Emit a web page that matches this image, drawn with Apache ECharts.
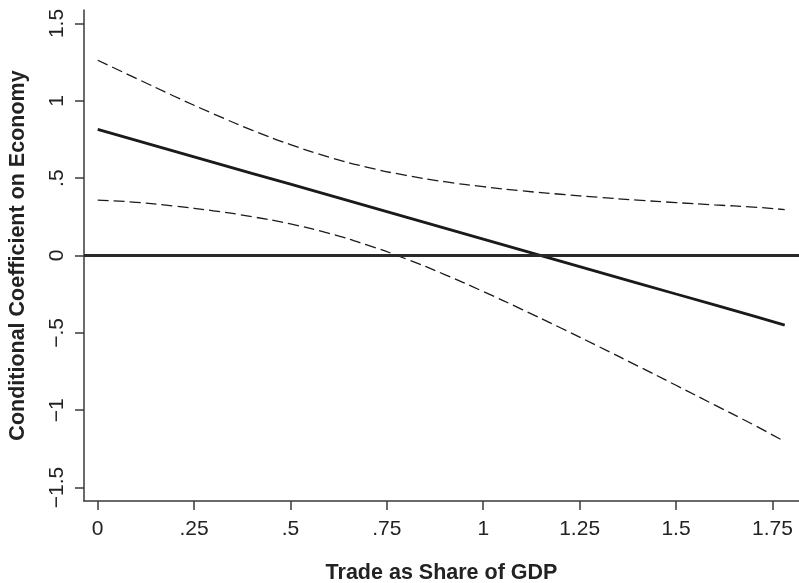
<!DOCTYPE html>
<html>
<head>
<meta charset="utf-8">
<script src="https://cdn.jsdelivr.net/npm/echarts@6/dist/echarts.min.js"></script>
<style>
html,body{margin:0;padding:0;background:#fff;}
#chart{width:799px;height:583px;}
</style>
</head>
<body>
<div id="chart"></div>
<script>
// Trade as share of GDP (x) sample points
const tradeShare = [0, 0.1, 0.2, 0.3, 0.4, 0.5, 0.6, 0.7, 0.8, 0.9, 1.0, 1.1, 1.2, 1.3, 1.4, 1.5, 1.6, 1.7, 1.782];
// Conditional coefficient on economy
const coefficient = [0.815, 0.744, 0.673, 0.602, 0.531, 0.461, 0.390, 0.319, 0.248, 0.177, 0.106, 0.035, -0.036, -0.107, -0.178, -0.249, -0.319, -0.390, -0.450];
const upperBound = [1.262, 1.145, 1.028, 0.916, 0.811, 0.717, 0.636, 0.570, 0.518, 0.477, 0.445, 0.418, 0.396, 0.376, 0.358, 0.342, 0.327, 0.313, 0.297];
const lowerBound = [0.358, 0.344, 0.319, 0.289, 0.251, 0.204, 0.143, 0.067, -0.022, -0.123, -0.233, -0.348, -0.467, -0.589, -0.713, -0.839, -0.966, -1.093, -1.203];
// Tick labels
const xTickValues = [0, 0.25, 0.5, 0.75, 1, 1.25, 1.5, 1.75];
const xTickLabels = ['0', '.25', '.5', '.75', '1', '1.25', '1.5', '1.75'];
const yTickValues = [-1.5, -1, -0.5, 0, 0.5, 1, 1.5];
const yTickLabels = ['\u22121.5', '\u22121', '\u2212.5', '0', '.5', '1', '1.5'];

const pairs = (ys) => tradeShare.map((x, i) => [x, ys[i]]);
const fmt = (vals, labels) => (v) => {
  for (let i = 0; i < vals.length; i++) if (Math.abs(vals[i] - v) < 1e-9) return labels[i];
  return '';
};
const font = '"Liberation Sans", Arial, Helvetica, sans-serif';
const axisColor = '#3a3a3a';

const chart = echarts.init(document.getElementById('chart'), null, {renderer: 'canvas'});
chart.setOption({
  backgroundColor: '#ffffff',
  animation: false,
  grid: {left: 84, right: 0, top: 10, bottom: 82, containLabel: false, outerBoundsMode: 'none'},
  xAxis: {
    type: 'value',
    min: -0.0355,
    max: 1.819,
    name: 'Trade as Share of GDP',
    nameLocation: 'middle',
    nameGap: 61,
    nameTextStyle: {fontFamily: font, fontSize: 21.5, fontWeight: 'bold', color: '#222'},
    axisLine: {show: true, onZero: false, lineStyle: {color: axisColor, width: 1.5}},
    axisTick: {show: true, length: 9, customValues: xTickValues, lineStyle: {color: axisColor, width: 1.5}},
    axisLabel: {customValues: xTickValues, formatter: fmt(xTickValues, xTickLabels), margin: 18,
      fontFamily: font, fontSize: 21, color: '#222'},
    splitLine: {show: false}
  },
  yAxis: {
    type: 'value',
    min: -1.587,
    max: 1.587,
    name: 'Conditional Coefficient on Economy',
    nameLocation: 'middle',
    nameRotate: 90,
    nameGap: 55,
    nameTextStyle: {fontFamily: font, fontSize: 21.5, fontWeight: 'bold', color: '#222'},
    axisLine: {show: true, onZero: false, lineStyle: {color: axisColor, width: 1.5}},
    axisTick: {show: true, length: 9, customValues: yTickValues, lineStyle: {color: axisColor, width: 1.5}},
    axisLabel: {customValues: yTickValues, formatter: fmt(yTickValues, yTickLabels), rotate: 90, margin: 16,
      fontFamily: font, fontSize: 21, color: '#222'},
    splitLine: {show: false}
  },
  series: [
    {
      type: 'line', data: pairs(upperBound), symbol: 'none', smooth: true,
      lineStyle: {color: '#1a1a1a', width: 1.3, type: [11, 5]}
    },
    {
      type: 'line', data: pairs(lowerBound), symbol: 'none', smooth: true,
      lineStyle: {color: '#1a1a1a', width: 1.3, type: [11, 5]}
    },
    {
      type: 'line', data: pairs(coefficient), symbol: 'none',
      lineStyle: {color: '#1a1a1a', width: 2.8},
      markLine: {
        silent: true, symbol: 'none', label: {show: false},
        lineStyle: {color: '#2a2a2a', width: 3, type: 'solid'},
        data: [{yAxis: 0}]
      }
    }
  ]
});
</script>
</body>
</html>
